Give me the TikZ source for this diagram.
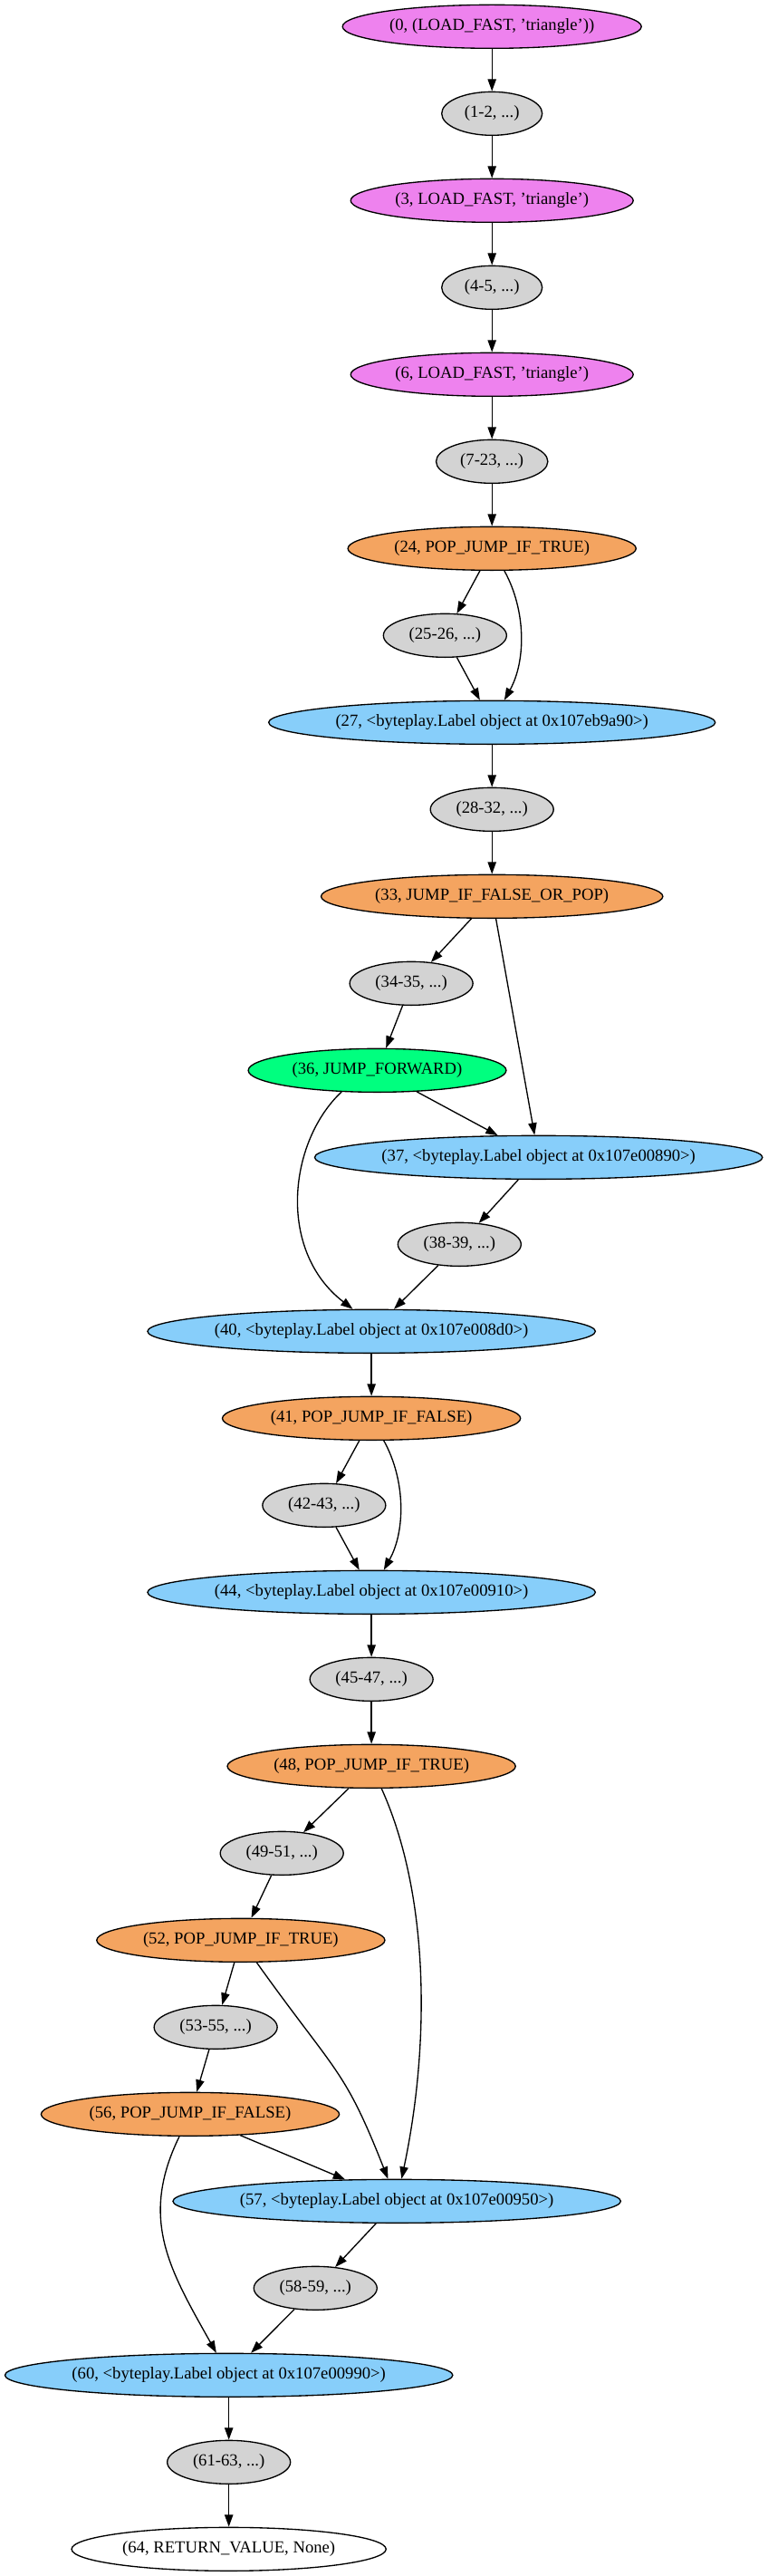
\documentclass[tikz,border=0pt]{standalone}
\usepackage{fontspec}
\setmainfont{Liberation Serif}
\usetikzlibrary{shapes.geometric,arrows.meta}
\definecolor{gvviolet}{HTML}{EE82EE}
\definecolor{gvgray}{HTML}{D3D3D3}
\definecolor{gvsandy}{HTML}{F4A460}
\definecolor{gvsky}{HTML}{87CEFA}
\definecolor{gvspring}{HTML}{00FF7F}
\newcommand{\gvfont}{\fontsize{14}{16.8}\selectfont}
\tikzset{
  gvnode/.style={ellipse, draw=black, line width=1pt, inner sep=0pt, minimum height=36pt, font=\gvfont},
  loadnode/.style={gvnode, fill=gvviolet},
  blocknode/.style={gvnode, fill=gvgray, minimum width=102pt},
  jumpnode/.style={gvnode, fill=gvsandy},
  labelnode/.style={gvnode, fill=gvsky, minimum width=370.8pt},
  fwdnode/.style={gvnode, fill=gvspring},
  retnode/.style={gvnode, fill=white},
  gvedge/.style={-{Triangle[length=10pt,width=7pt]}, line width=1pt, black}
}
\begin{document}
\begin{tikzpicture}[x=1pt,y=1pt]
\useasboundingbox (0,0) rectangle (635.25,-2132.25);
\fill[white] (0,0) rectangle (635.25,-2132.25);
% nodes
\node[loadnode, minimum width=247.5pt] (n0) at (407.4,-22) {(0, (LOAD\_FAST, 'triangle'))};
\node[blocknode, minimum width=83.25pt] (n1) at (407.4,-94) {(1-2, ...)};
\node[loadnode, minimum width=234pt] (n3) at (407.4,-166) {(3, LOAD\_FAST, 'triangle')};
\node[blocknode, minimum width=83.25pt] (n4) at (407.4,-238) {(4-5, ...)};
\node[loadnode, minimum width=234pt] (n6) at (407.4,-310) {(6, LOAD\_FAST, 'triangle')};
\node[blocknode, minimum width=92.5pt] (n7) at (407.4,-382) {(7-23, ...)};
\node[jumpnode, minimum width=238.6pt] (n24) at (407.4,-454) {(24, POP\_JUMP\_IF\_TRUE)};
\node[blocknode] (n25) at (368.5,-526) {(25-26, ...)};
\node[labelnode, minimum width=369.8pt] (n27) at (407.4,-598) {(27, <byteplay.Label object at 0x107eb9a90>)};
\node[blocknode] (n28) at (407.4,-670) {(28-32, ...)};
\node[jumpnode, minimum width=283pt] (n33) at (407.4,-742) {(33, JUMP\_IF\_FALSE\_OR\_POP)};
\node[blocknode] (n34) at (340.6,-814) {(34-35, ...)};
\node[fwdnode, minimum width=213.6pt] (n36) at (312.4,-886) {(36, JUMP\_FORWARD)};
\node[labelnode] (n37) at (446,-958) {(37, <byteplay.Label object at 0x107e00890>)};
\node[blocknode] (n38) at (380.5,-1030) {(38-39, ...)};
\node[labelnode] (n40) at (307.6,-1102) {(40, <byteplay.Label object at 0x107e008d0>)};
\node[jumpnode, minimum width=246.9pt] (n41) at (307.6,-1174) {(41, POP\_JUMP\_IF\_FALSE)};
\node[blocknode] (n42) at (268.4,-1246) {(42-43, ...)};
\node[labelnode] (n44) at (307.6,-1318) {(44, <byteplay.Label object at 0x107e00910>)};
\node[blocknode] (n45) at (307.6,-1390) {(45-47, ...)};
\node[jumpnode, minimum width=238.6pt] (n48) at (307.6,-1462) {(48, POP\_JUMP\_IF\_TRUE)};
\node[blocknode] (n49) at (233.4,-1534) {(49-51, ...)};
\node[jumpnode, minimum width=238.6pt] (n52) at (199.4,-1606) {(52, POP\_JUMP\_IF\_TRUE)};
\node[blocknode] (n53) at (178.6,-1678) {(53-55, ...)};
\node[jumpnode, minimum width=246.9pt] (n56) at (157.5,-1750) {(56, POP\_JUMP\_IF\_FALSE)};
\node[labelnode] (n57) at (328.6,-1822) {(57, <byteplay.Label object at 0x107e00950>)};
\node[blocknode] (n58) at (261.2,-1894) {(58-59, ...)};
\node[labelnode] (n60) at (189.5,-1966) {(60, <byteplay.Label object at 0x107e00990>)};
\node[blocknode] (n61) at (189.5,-2038) {(61-63, ...)};
\node[retnode, minimum width=260.4pt] (n64) at (189.5,-2110) {(64, RETURN\_VALUE, None)};
% edges
\draw[gvedge] (n0) -- (n1);
\draw[gvedge] (n1) -- (n3);
\draw[gvedge] (n3) -- (n4);
\draw[gvedge] (n4) -- (n6);
\draw[gvedge] (n6) -- (n7);
\draw[gvedge] (n7) -- (n24);
\draw[gvedge] (n24) -- (n25);
\draw[gvedge] (n24) .. controls (435.7,-505) and (435.7,-547) .. (n27);
\draw[gvedge] (n25) -- (n27);
\draw[gvedge] (n27) -- (n28);
\draw[gvedge] (n28) -- (n33);
\draw[gvedge] (n33) -- (n34);
\draw[gvedge] (n33) -- (n37);
\draw[gvedge] (n34) -- (n36);
\draw[gvedge] (n36) -- (n37);
\draw[gvedge] (n36.-149) .. controls (239,-945) and (229,-1035) .. (n40.130);
\draw[gvedge] (n37) -- (n38);
\draw[gvedge] (n38) -- (n40);
\draw[gvedge] (n40) -- (n41);
\draw[gvedge] (n41) -- (n42);
\draw[gvedge] (n41) .. controls (335.9,-1225) and (335.9,-1267) .. (n44);
\draw[gvedge] (n42) -- (n44);
\draw[gvedge] (n44) -- (n45);
\draw[gvedge] (n45) -- (n48);
\draw[gvedge] (n48) -- (n49);
\draw[gvedge] (n48) .. controls (356,-1569) and (356,-1693) .. (n57);
\draw[gvedge] (n49) -- (n52);
\draw[gvedge] (n52) -- (n53);
\draw[gvedge] (n52) .. controls (278.7,-1717) and (284.8,-1711) .. (n57);
\draw[gvedge] (n53) -- (n56);
\draw[gvedge] (n56) -- (n57);
\draw[gvedge] (n56) .. controls (115,-1837) and (140.7,-1879) .. (n60);
\draw[gvedge] (n57) -- (n58);
\draw[gvedge] (n58) -- (n60);
\draw[gvedge] (n60) -- (n61);
\draw[gvedge] (n61) -- (n64);
\end{tikzpicture}
\end{document}
